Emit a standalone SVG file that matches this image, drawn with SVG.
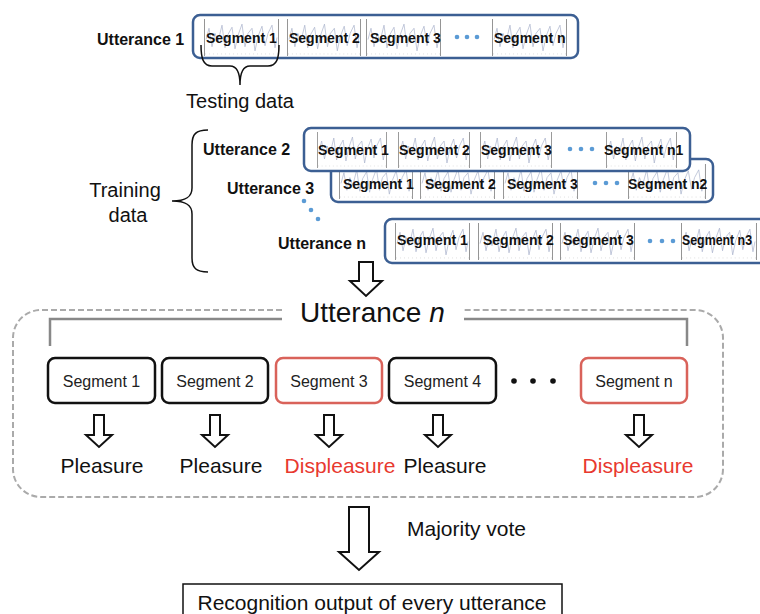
<svg xmlns="http://www.w3.org/2000/svg" xmlns:xlink="http://www.w3.org/1999/xlink" width="760" height="614" viewBox="0 0 760 614">
<style>
.ubox{fill:#fff;stroke:#3c5f93;stroke-width:2.5}
.ulab{font-family:"Liberation Sans",Arial,sans-serif;font-weight:bold;font-size:16px;fill:#111}
.slab{font-family:"Liberation Sans",Arial,sans-serif;font-weight:bold;font-size:14px;fill:#111}
.bdot{fill:#5b9bd5}
.brace{fill:none;stroke:#111;stroke-width:1.5}
.big{font-family:"Liberation Sans",Arial,sans-serif;font-size:20px;fill:#111}
.seg{fill:#fff;stroke:#111;stroke-width:2.5}
.segr{fill:#fff;stroke:#d9625a;stroke-width:2.5}
.segt{font-family:"Liberation Sans",Arial,sans-serif;font-size:16px;fill:#222;text-anchor:middle}
.res{font-family:"Liberation Sans",Arial,sans-serif;font-size:21px;fill:#111;text-anchor:middle}
.red{fill:#e8392f}
.arr{fill:#fff;stroke:#111;stroke-width:2;stroke-linejoin:miter}
</style>
<defs>
<symbol id="wave" viewBox="0 0 75 36" preserveAspectRatio="none">
<line x1="0.5" y1="0" x2="0.5" y2="36" stroke="#8a8a8a" stroke-width="0.9"/>
<line x1="74.5" y1="0" x2="74.5" y2="36" stroke="#8a8a8a" stroke-width="0.9"/>
<line x1="1" y1="34" x2="74" y2="34" stroke="#ccc" stroke-width="0.6" stroke-dasharray="1 3"/>
<path d="M2,20 L5,9 L8,27 L11,14 L14,22 L18,6 L21,28 L24,15 L28,8 L31,29 L34,16 L38,5 L41,27 L44,14 L48,9 L51,31 L54,17 L58,7 L61,26 L64,14 L68,6 L71,28 L73,18" fill="none" stroke="#aab3cc" stroke-width="0.7"/>
</symbol>
<path id="sarrow" d="M-5,0 L5,0 L5,20 L13,20 L0,32 L-13,20 L-5,20 Z"/>
</defs>
<rect width="760" height="614" fill="#fff"/>

<g id="utterance1">
<text class="ulab" x="97" y="45">Utterance 1</text>
<rect class="ubox" x="193" y="15" width="385" height="43" rx="7"/>
<use href="#wave" x="204" y="19" width="75" height="37"/>
<use href="#wave" x="287" y="19" width="74" height="37"/>
<use href="#wave" x="366" y="19" width="75" height="37"/>
<use href="#wave" x="492" y="19" width="75" height="37"/>
<text class="slab" x="206" y="43">Segment 1</text>
<text class="slab" x="289" y="43">Segment 2</text>
<text class="slab" x="370" y="43">Segment 3</text>
<circle class="bdot" cx="457" cy="37" r="2.3"/><circle class="bdot" cx="467" cy="37" r="2.3"/><circle class="bdot" cx="477" cy="37" r="2.3"/>
<text class="slab" x="494" y="43">Segment n</text>
</g>

<g id="testing-data">
<text class="big" x="240" y="108" text-anchor="middle">Testing data</text>
</g>

<g id="training-data">
<text class="big" x="125" y="197" text-anchor="middle">Training</text>
<text class="big" x="128" y="222" text-anchor="middle">data</text>
</g>

<g id="utterance3">
<text class="ulab" x="227" y="194">Utterance 3</text>
<rect class="ubox" x="331" y="159" width="382" height="43" rx="7"/>
<use href="#wave" x="339" y="164" width="74" height="35"/>
<use href="#wave" x="420" y="164" width="75" height="35"/>
<use href="#wave" x="503" y="164" width="75" height="35"/>
<use href="#wave" x="628" y="164" width="78" height="35"/>
<text class="slab" x="343" y="189">Segment 1</text>
<text class="slab" x="425" y="189">Segment 2</text>
<text class="slab" x="507" y="189">Segment 3</text>
<circle class="bdot" cx="595" cy="183" r="2.3"/><circle class="bdot" cx="606" cy="183" r="2.3"/><circle class="bdot" cx="617" cy="183" r="2.3"/>
<text class="slab" x="628" y="189">Segment n2</text>
</g>

<g id="utterance2">
<text class="ulab" x="203" y="155">Utterance 2</text>
<rect class="ubox" x="304" y="128" width="386" height="43" rx="7"/>
<use href="#wave" x="317" y="132" width="70" height="36"/>
<use href="#wave" x="398" y="132" width="72" height="36"/>
<use href="#wave" x="480" y="132" width="72" height="36"/>
<use href="#wave" x="606" y="132" width="71" height="36"/>
<text class="slab" x="318" y="155">Segment 1</text>
<text class="slab" x="399" y="155">Segment 2</text>
<text class="slab" x="481" y="155">Segment 3</text>
<circle class="bdot" cx="570" cy="149" r="2.3"/><circle class="bdot" cx="581" cy="149" r="2.3"/><circle class="bdot" cx="592" cy="149" r="2.3"/>
<text class="slab" x="604" y="155">Segment n1</text>
</g>

<g id="utterance-n-row">
<text class="ulab" x="278" y="249">Utterance n</text>
<circle class="bdot" cx="304" cy="201" r="2.3"/><circle class="bdot" cx="311" cy="210" r="2.3"/><circle class="bdot" cx="318" cy="219" r="2.3"/>
<rect class="ubox" x="385" y="219" width="390" height="44" rx="7"/>
<use href="#wave" x="395" y="223" width="75" height="37"/>
<use href="#wave" x="478" y="223" width="75" height="37"/>
<use href="#wave" x="560" y="223" width="75" height="37"/>
<use href="#wave" x="681" y="223" width="76" height="37"/>
<text class="slab" x="397" y="245">Segment 1</text>
<text class="slab" x="483" y="245">Segment 2</text>
<text class="slab" x="563" y="245">Segment 3</text>
<circle class="bdot" cx="650" cy="241" r="2.3"/><circle class="bdot" cx="662" cy="241" r="2.3"/><circle class="bdot" cx="673" cy="241" r="2.3"/>
<text class="slab" x="682" y="245" textLength="70" lengthAdjust="spacingAndGlyphs">Segment n3</text>
</g>

<g id="utterance-n-panel">
<path d="M282,310 L41,310 A28,28 0 0 0 13,338 L13,469 A28,28 0 0 0 41,497 L695,497 A28,28 0 0 0 723,469 L723,338 A28,28 0 0 0 695,310 L464,310" fill="none" stroke="#aaa" stroke-width="2" stroke-dasharray="6 3"/>
<path d="M50,346 L50,319 L282,319 M464,319 L687,319 L687,346" fill="none" stroke="#888" stroke-width="2.5"/>
<text x="300" y="322" font-family="'Liberation Sans',Arial,sans-serif" font-size="28" fill="#111">Utterance <tspan font-style="italic">n</tspan></text>
</g>

<g id="seg1"><rect class="seg" x="48" y="358" width="107" height="45" rx="7"/><text class="segt" x="101.5" y="387">Segment 1</text></g>
<g id="seg2"><rect class="seg" x="162" y="358" width="106" height="45" rx="7"/><text class="segt" x="215" y="387">Segment 2</text></g>
<g id="seg3"><rect class="segr" x="276" y="358" width="106" height="45" rx="7"/><text class="segt" x="329" y="387">Segment 3</text></g>
<g id="seg4"><rect class="seg" x="389" y="358" width="107" height="45" rx="7"/><text class="segt" x="442.5" y="387">Segment 4</text></g>
<g id="segdots"><circle cx="514" cy="381" r="2.8" fill="#111"/><circle cx="533" cy="381" r="2.8" fill="#111"/><circle cx="553" cy="381" r="2.8" fill="#111"/></g>
<g id="segn"><rect class="segr" x="581" y="358" width="106" height="45" rx="7"/><text class="segt" x="634" y="387">Segment n</text></g>

<g id="labels">
<text class="res" x="102" y="473">Pleasure</text>
<text class="res" x="221" y="473">Pleasure</text>
<text class="res red" x="340" y="473">Displeasure</text>
<text class="res" x="445" y="473">Pleasure</text>
<text class="res red" x="638" y="473">Displeasure</text>
</g>

<g id="majority-vote"><text x="407" y="536" font-family="'Liberation Sans',Arial,sans-serif" font-size="21" fill="#111">Majority vote</text></g>

<g id="output">
<rect x="183" y="584" width="379" height="40" fill="#fff" stroke="#111" stroke-width="1.5"/>
<text class="res" x="372" y="610">Recognition output of every utterance</text>
</g>

<g id="connectors">
<path class="brace" d="M201,45 C201,58 203,66 212,66 L230,66 C237,66 240,72 240,85 C240,72 243,66 250,66 L268,66 C277,66 279,58 279,45"/>
<path class="brace" d="M208,130 C196,130 192,134 192,145 L192,188 C192,197 186,201 172,201 C186,201 192,205 192,214 L192,258 C192,268 196,272 208,272"/>
<path class="arr" d="M359,262 L373,262 L373,281 L382,281 L366,296 L350,281 L359,281 Z"/>
<use href="#sarrow" class="arr" x="99" y="415"/>
<use href="#sarrow" class="arr" x="215" y="415"/>
<use href="#sarrow" class="arr" x="329" y="415"/>
<use href="#sarrow" class="arr" x="438" y="415"/>
<use href="#sarrow" class="arr" x="639" y="415"/>
<path class="arr" stroke-width="2.5" d="M349,507 L369,507 L369,552 L379,552 L359,570 L339,552 L349,552 Z"/>
</g>
</svg>
